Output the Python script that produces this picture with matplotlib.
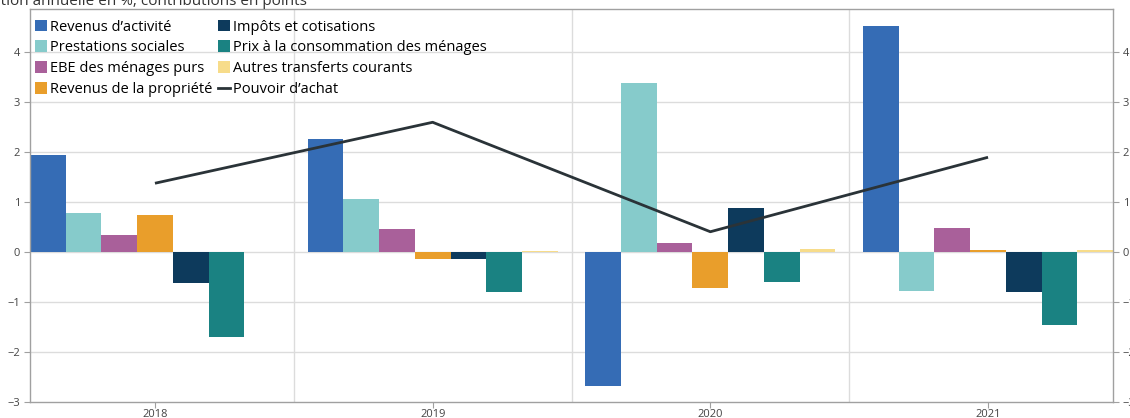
import numpy as np
import matplotlib.pyplot as plt
from matplotlib.patches import Patch
from matplotlib.lines import Line2D

plt.rcParams['font.family'] = ['Open Sans', 'DejaVu Sans']

years = ['2018', '2019', '2020', '2021']

series_names = [
    "Revenus d\u2019activit\u00e9",
    "Prestations sociales",
    "EBE des m\u00e9nages purs",
    "Revenus de la propri\u00e9t\u00e9",
    "Imp\u00f4ts et cotisations",
    "Prix \u00e0 la consommation des m\u00e9nages",
    "Autres transferts courants",
]
revenus_activite = [1.93, 2.26, -2.68, 4.51]
prestations_sociales = [0.77, 1.05, 3.37, -0.78]
ebe_menages = [0.33, 0.45, 0.17, 0.47]
revenus_propriete = [0.73, -0.15, -0.73, 0.03]
impots_cotisations = [-0.63, -0.15, 0.87, -0.80]
prix_consommation = [-1.71, -0.81, -0.61, -1.47]
autres_transferts = [-0.01, 0.01, 0.05, 0.03]
pouvoir_achat = [1.37, 2.59, 0.40, 1.89]

colors = ['#356cb5', '#86cbcb', '#a9609a', '#e99e2b', '#0d3a5c', '#1a8282', '#f7dc8a']
line_color = '#2a3338'

bar_series = [revenus_activite, prestations_sociales, ebe_menages, revenus_propriete,
              impots_cotisations, prix_consommation, autres_transferts]

fig = plt.figure(figsize=(11.3, 4.18), dpi=100)
ax = fig.add_axes([30 / 1130, 1 - 401.7 / 418, (1113 - 30) / 1130, (401.7 - 9.3) / 418])

x = np.arange(len(years))
group_w = 0.9
bw = group_w / len(bar_series)
for k, vals in enumerate(bar_series):
    offs = -group_w / 2 + bw * (k + 0.5)
    ax.bar(x + offs, vals, width=bw, color=colors[k], zorder=2, linewidth=0)

ax.plot(x, pouvoir_achat, color=line_color, lw=2.0, zorder=3, solid_capstyle='butt')

ax.set_xlim(-0.45, 3.45)
ax.set_ylim(-3, 4.85)
ax.set_yticks(range(-3, 5))
ax.set_yticklabels([str(v).replace('-', '\u2212') for v in range(-3, 5)])
ax.set_xticks(x)
ax.set_xticklabels(years)

# grille
for yv in range(-2, 5):
    ax.axhline(yv, color='#dcdcdc', lw=1.0, zorder=1)
for xv in [0.5, 1.5, 2.5]:
    ax.axvline(xv, color='#dcdcdc', lw=1.0, zorder=1)

for s in ax.spines.values():
    s.set_color('#a0a0a0')
    s.set_linewidth(1.0)

ax.tick_params(axis='y', which='both', left=True, right=True, labelleft=True, labelright=True,
               length=4, width=0.8, color='#a0a0a0', labelsize=8, labelcolor='#444444', pad=3)
ax.tick_params(axis='x', length=4, width=0.8, color='#a0a0a0', labelsize=8,
               labelcolor='#444444', pad=1)

handles = [Patch(facecolor=c, edgecolor='none') for c in colors]
handles.append(Line2D([0], [0], color=line_color, lw=2.0))
labels = series_names + ["Pouvoir d\u2019achat"]
leg = ax.legend(handles, labels, ncol=2,
                loc='upper left', bbox_to_anchor=(2 / 1083, 1 - 7.3 / 392.4), frameon=False,
                fontsize=10.5, handlelength=0.85, handleheight=0.85, handletextpad=0.2,
                columnspacing=0.35, labelspacing=0.4, borderaxespad=0.0, borderpad=0.2)
leg.set_zorder(5)

fig.text(-38 / 1130, 1 - 5 / 418, "\u00c9volution annuelle en %, contributions en points",
         fontsize=11, color='#333333', va='baseline', ha='left')

fig.savefig('out.png', dpi=100)
